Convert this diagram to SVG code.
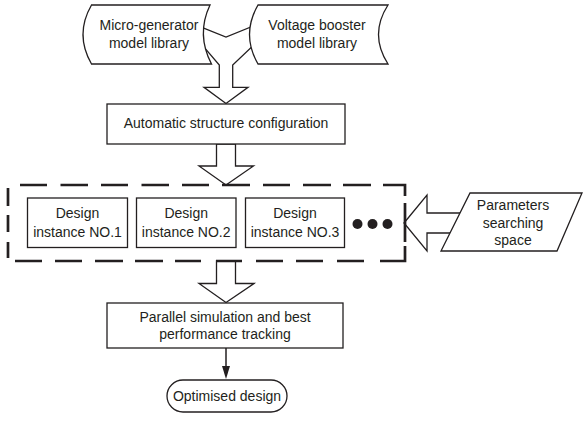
<svg xmlns="http://www.w3.org/2000/svg" width="584" height="423" viewBox="0 0 584 423">
<style>
.n{fill:#fff;stroke:#231f20;stroke-width:1.3}
.a{fill:#fff;stroke:#231f20;stroke-width:1.3;stroke-linejoin:miter}
.t{font-family:"Liberation Sans",Arial,sans-serif;font-size:14px;fill:#231f20;text-anchor:middle}
.d{fill:none;stroke:#231f20;stroke-width:2.7}
.l{fill:none;stroke:#231f20;stroke-width:1.5}
</style>
<defs>
<marker id="ah" markerWidth="14" markerHeight="10" refX="1" refY="4" orient="auto" markerUnits="userSpaceOnUse" viewBox="0 0 14 8">
<path d="M0,0 L13,4 L0,8 Z" fill="#231f20"/>
</marker>
</defs>
<rect width="584" height="423" fill="#fff"/>
<g id="connectors">
<polygon class="a" points="195,24.7 226,37 257,24.5 257,42 232.7,65 232.7,87.3 248,87.3 226,103.5 204,87.3 219.3,87.3 219.3,65 195,36.6"/>
<polygon class="a" points="216.5,144 235.5,144 235.5,166 253.5,166 226,185 199,166 216.5,166"/>
<polygon class="a" points="216.5,261 235.5,261 235.5,283.5 254,283.5 226,302.5 199,283.5 216.5,283.5"/>
<polygon class="a" points="404,223 427,195 427,213 462,213 462,233 427,233 427,251"/>
<line class="l" x1="226" y1="348" x2="226" y2="367" marker-end="url(#ah)"/>
</g>
<g id="micro-generator">
<path class="n" d="M91.5,5 H210 Q196,34.5 211.5,64 H91.5 Q74.5,34.5 91.5,5 Z"/>
<text class="t" x="149" y="30">Micro-generator</text>
<text class="t" x="149" y="48">model library</text>
</g>
<g id="voltage-booster">
<path class="n" d="M258,5 H388 Q369,34.5 388,64 H258 Q241,34.5 258,5 Z"/>
<text class="t" x="317" y="30">Voltage booster</text>
<text class="t" x="317" y="48">model library</text>
</g>
<g id="auto-config">
<rect class="n" x="107" y="104" width="238" height="40"/>
<text class="t" x="226" y="128">Automatic structure configuration</text>
</g>
<g id="design-instances">
<path class="d" d="M20,185H47M60.5,185H88M101,185H128M141.5,185H169M182,185H209M222,185H250M263,185H290M303,185H331M343,185H371M383,185H405V196M405,203V242M405,246V261H380M364,261H337M323,261H296M283,261H256M242,261H216M201,261H175M163,261H135M123,261H95M82,261H55M42,261H15M8,258V242M8,232V215M8,206V188"/>
</g>
<g id="instance-1">
<rect class="n" x="27.5" y="198" width="100" height="49.5"/>
<text class="t" x="77.5" y="218">Design</text>
<text class="t" x="77.5" y="236.5">instance NO.1</text>
</g>
<g id="instance-2">
<rect class="n" x="136.5" y="198" width="99.5" height="49.5"/>
<text class="t" x="186.2" y="218">Design</text>
<text class="t" x="186.2" y="236.5">instance NO.2</text>
</g>
<g id="instance-3">
<rect class="n" x="245.5" y="198" width="99" height="49.5"/>
<text class="t" x="295" y="218">Design</text>
<text class="t" x="295" y="236.5">instance NO.3</text>
</g>
<g id="ellipsis">
<circle cx="357.5" cy="224" r="5" fill="#231f20"/>
<circle cx="372.5" cy="224" r="5" fill="#231f20"/>
<circle cx="387.5" cy="224" r="5" fill="#231f20"/>
</g>
<g id="parameters">
<polygon class="n" points="470,193 582,193 557,251 441,251"/>
<text class="t" x="513" y="210">Parameters</text>
<text class="t" x="513" y="227.5">searching</text>
<text class="t" x="513" y="244.5">space</text>
</g>
<g id="parallel-sim">
<rect class="n" x="107" y="303" width="236" height="45"/>
<text class="t" x="225" y="322">Parallel simulation and best</text>
<text class="t" x="225" y="338.5">performance tracking</text>
</g>
<g id="optimised">
<rect class="n" x="167" y="380" width="120" height="32" rx="16" ry="16"/>
<text class="t" x="227" y="401">Optimised design</text>
</g>
</svg>
